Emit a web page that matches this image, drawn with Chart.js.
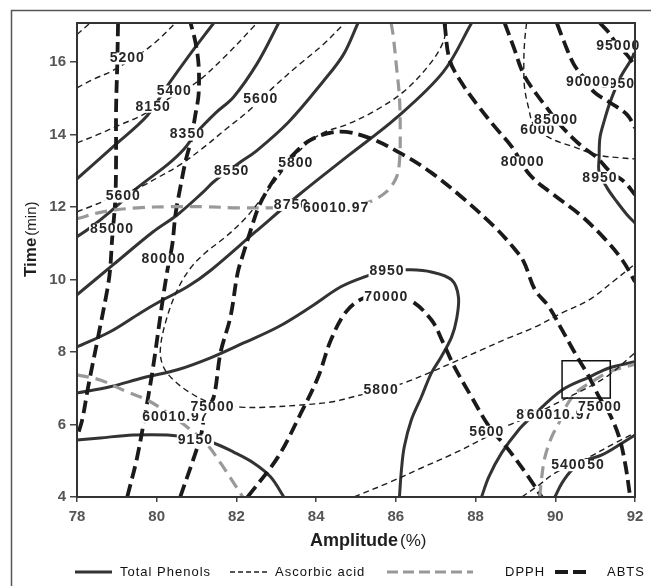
<!DOCTYPE html>
<html>
<head>
<meta charset="utf-8">
<script src="https://cdn.jsdelivr.net/npm/chart.js@4"></script>
<style>
  html, body { margin: 0; padding: 0; background: #fff; }
  canvas { display: block; }
</style>
</head>
<body>
<canvas id="contourChart" width="651" height="586"></canvas>
<script>
// axis ticks
const amplitudeTicks = [78, 80, 82, 84, 86, 88, 90, 92];
const timeTicks = [4, 6, 8, 10, 12, 14, 16];

// contour lines, [amplitude %, time min]
// Total phenols
const phenols8150 = [[78,12.78],[78.93,13.69],[79.76,14.52],[80.27,15.35],[80.77,16.12],[81.43,17.08]];
const phenols8350 = [[78,11.18],[78.33,11.43],[78.83,11.87],[79.51,12.53],[80.27,13.17],[80.67,13.58],[81.02,14.08],[81.48,14.6],[81.93,15.04],[82.53,15.98],[83.06,17.08]];
const phenols8550 = [[78,9.58],[78.91,10.41],[79.91,11.32],[80.52,11.79],[81.17,12.42],[81.43,12.7],[82.11,13.25],[82.48,13.53],[83.31,14.35],[84.17,15.46],[84.68,16.2],[85.05,17.08]];
const phenols8750 = [[78,8.14],[78.83,8.56],[79.59,9.08],[80.09,9.4],[80.77,9.8],[81.35,10.25],[82.48,11.32],[83.57,12.34],[84.83,13.44],[86.01,14.46],[87.19,15.73],[87.9,17.08]];
const phenols8950 = [[78,6.87],[78.83,7.04],[79.66,7.29],[80.52,7.51],[81.35,7.84],[82.18,8.25],[83.04,8.69],[83.87,9.25],[84.62,9.8],[85.2,10.07],[85.76,10.25],[86.34,10.27],[86.89,10.21],[87.4,9.99],[87.57,9.52],[87.52,8.89],[87.4,8.42],[87.14,7.87],[86.89,7.42],[86.64,6.76],[86.39,6.13],[86.21,5.38],[86.14,4.75],[86.09,4]];
const phenols9150 = [[78,5.57],[78.58,5.63],[79.41,5.71],[80.27,5.71],[80.97,5.62],[81.43,5.49],[81.93,5.24],[82.43,4.94],[82.86,4.55],[83.19,4]];
const phenols8950b = [[92,16.34],[91.93,16.12],[91.63,15.57],[91.38,14.91],[91.22,14.35],[91.12,13.91],[91.1,13.36],[91.1,12.97],[91.3,12.53],[91.55,12.14],[91.8,11.79],[92,11.56]];
const phenols8750b = [[88.15,4],[88.33,4.55],[88.65,5.21],[89.08,5.85],[89.41,6.21],[90.17,6.95],[90.85,7.31],[91.35,7.56],[92,7.73]];
const phenols8550b = [[89.99,4],[90.17,4.39],[90.42,4.75],[90.75,5],[91.17,5.16],[91.68,5.49],[92,5.71]];

// Ascorbic acid
const ascorbic5000 = [[78,16.76],[78.33,17.08]];
const ascorbic5200 = [[78,15.29],[78.38,15.51],[78.88,15.76],[79.59,16.23],[80.04,16.62],[80.47,17.08]];
const ascorbic5400 = [[78,13.77],[78.5,13.99],[79.08,14.27],[79.66,14.55],[80.34,15.02],[81.02,15.46],[81.68,16.12],[82.43,16.98],[82.5,17.08]];
const ascorbic5600 = [[78,11.87],[78.33,12.01],[78.76,12.2],[79.59,12.56],[80.02,12.81],[80.59,13.17],[81.17,13.64],[81.78,14.19],[82.28,14.63],[82.91,15.29],[83.57,15.93],[84.17,16.48],[84.72,17.08]];
const ascorbic5800 = [[87.27,17.08],[87.19,16.56],[86.84,15.93],[86.19,15.18],[85.43,14.63],[84.75,14.27],[84.17,14.05],[83.74,13.72],[83.37,13.3],[82.99,12.75],[82.66,12.28],[82.23,11.7],[81.73,11.18],[81.22,10.74],[80.85,10.32],[80.52,9.72],[80.24,8.89],[80.09,8.06],[80.17,7.59],[80.42,7.23],[80.85,6.87],[81.35,6.6],[82.11,6.48],[82.79,6.48],[83.62,6.54],[84.37,6.62],[85.13,6.82],[85.63,6.95],[86.21,7.15],[86.82,7.42],[87.47,7.73],[88.15,8.06],[88.83,8.39],[89.49,8.69],[90.17,9.08],[90.85,9.44],[91.5,9.99],[92,10.43]];
const ascorbic6000 = [[89.28,17.08],[89.23,16.56],[89.21,15.93],[89.23,15.29],[89.33,14.74],[89.46,14.27],[89.86,13.91],[90.47,13.66],[91.05,13.44],[91.63,13.36],[92,13.33]];
const ascorbic5600b = [[84.95,4],[85.81,4.39],[86.64,4.8],[87.47,5.21],[88.28,5.66],[88.73,5.93],[89.33,6.21],[89.84,6.48],[90.34,6.76],[90.85,7.04],[91.35,7.37],[92,7.98]];
const ascorbic5400b = [[89.16,4],[89.59,4.33],[89.99,4.66],[90.42,4.88],[90.85,5.1],[91.5,5.49],[92,5.77]];

// DPPH
const dpphUpper = [[78,11.68],[78.65,11.87],[79.51,11.98],[80.34,12.01],[81.17,12.01],[82.03,11.98],[82.86,11.98],[83.74,11.98],[84.62,12.01],[85,12.06],[85.33,12.14],[85.76,12.42],[86.01,12.81],[86.09,13.25],[86.11,14.08],[86.09,15.02],[86.01,15.93],[85.93,16.76],[85.88,17.08]];
const dpphLeft = [[78,7.37],[78.58,7.23],[79.26,6.9],[79.76,6.68],[80.3,6.3],[80.8,5.9],[81.27,5.44],[81.6,4.94],[81.93,4.39],[82.16,4]];
const dpphRight = [[89.61,4],[89.66,4.55],[89.74,5.1],[89.91,5.66],[90.09,6.04],[90.29,6.54],[90.54,6.9],[90.92,7.18],[91.35,7.45],[92,7.67]];

// ABTS
const abts85000a = [[79.03,17.08],[79.01,15.93],[78.98,14.68],[78.98,13.3],[78.96,12.2],[78.88,11.1],[78.83,10.27],[78.76,9.72],[78.53,8.42],[78.28,7.04],[78.13,6.13],[78,5.66]];
const abts80000a = [[79.26,4],[79.51,5.1],[79.76,6.6],[79.91,7.59],[80.14,9.36],[80.27,10.27],[80.39,10.96],[80.47,11.79],[80.59,12.53],[80.72,13.25],[80.85,13.8],[80.97,14.55],[81.05,15.1],[81.05,15.93],[80.97,16.56],[80.85,17.08]];
const abts75000 = [[80.59,4],[81.1,5.66],[81.22,6.32],[81.43,6.76],[81.6,7.98],[81.85,8.97],[82.03,10.18],[82.18,10.74],[82.36,11.37],[82.56,12.01],[82.81,12.53],[83.11,13.03],[83.42,13.44],[83.87,13.86],[84.57,14.08],[85.33,13.91],[86.19,13.44],[86.89,12.95],[87.65,12.28],[88.48,11.45],[88.96,10.87],[89.21,10.49],[89.49,9.72],[89.84,9.25],[90.17,8.61],[90.49,7.98],[90.85,7.31],[91.1,6.76],[91.35,6.32],[91.6,5.66],[91.75,4.94],[91.88,4]];
const abts70000 = [[82.28,4],[83.04,5.1],[83.62,6.32],[84.05,7.31],[84.37,8.33],[84.75,9.11],[85.2,9.49],[85.76,9.55],[86.34,9.44],[86.89,8.89],[87.19,8.25],[87.47,7.59],[87.9,6.76],[88.35,5.93],[88.83,5.3],[89.33,4.55],[89.66,4]];
const abts80000b = [[87.22,17.08],[87.35,16.06],[87.65,15.43],[88.08,14.77],[88.48,14.22],[88.91,13.66],[89.36,12.89],[89.96,12.34],[90.62,11.79],[91.22,11.15],[91.68,10.54],[92,9.94]];
const abts85000b = [[88.73,17.08],[88.96,16.4],[89.21,15.65],[89.54,15.1],[89.79,14.74],[90.12,14.27],[90.62,13.72],[91.05,13.36],[91.38,12.97],[91.73,12.7],[92,12.34]];
const abts90000 = [[90.04,17.08],[90.22,16.56],[90.47,15.93],[90.72,15.57],[90.97,15.18],[91.38,14.88],[91.8,14.55],[92,14.19]];
const abts95000 = [[91.12,17.08],[91.35,16.81],[91.55,16.48],[91.8,16.2],[92,15.9]];

// contour labels: text, amplitude, time (later ones drawn over earlier ones)
const contourLabels = [
  ["5200", 79.26, 16.1], ["5400", 80.44, 15.19], ["8150", 79.91, 14.77],
  ["5600", 82.61, 14.97], ["8350", 80.77, 14.0], ["8550", 81.88, 12.98],
  ["5800", 83.49, 13.2], ["5600", 79.16, 12.29], ["8750", 83.38, 12.06],
  ["60010.97", 84.5, 11.98], ["85000", 78.88, 11.38], ["80000", 80.17, 10.55],
  ["95000", 91.58, 16.43], ["8950", 91.56, 15.4], ["90000", 90.82, 15.46],
  ["6000", 89.56, 14.13], ["85000", 90.02, 14.41], ["80000", 89.18, 13.23],
  ["8950", 91.12, 12.81], ["8950", 85.78, 10.24], ["70000", 85.76, 9.52],
  ["5800", 85.63, 6.96], ["5600", 88.28, 5.8], ["8750", 89.46, 6.26],
  ["60010.97", 90.12, 6.26], ["75000", 91.12, 6.48], ["8550", 90.8, 4.88],
  ["5400", 90.34, 4.88], ["9150", 80.97, 5.57], ["60010.97", 80.47, 6.21],
  ["75000", 81.4, 6.48]
];

// marked optimum region: amplitude from/to, time from/to
const optimumBox = [90.17, 91.38, 6.73, 7.76];

const legendNames = ["Total Phenols", "Ascorbic acid", "DPPH", "ABTS"];

const FONT = "'Liberation Sans', Arial, sans-serif";

const phenolStyle = { borderColor: "#333333", borderWidth: 3 };
const ascorbicStyle = { borderColor: "#1e1e1e", borderWidth: 1.4, borderDash: [6, 4] };
const dpphStyle = { borderColor: "#999999", borderWidth: 3.2, borderDash: [12, 7] };
const abtsStyle = { borderColor: "#1a1a1a", borderWidth: 3.8, borderDash: [13, 6] };

function contour(arr, style) {
  return Object.assign({
    data: arr.map(p => ({ x: p[0], y: p[1] })),
    showLine: true,
    pointRadius: 0,
    pointHoverRadius: 0,
    tension: 0.35,
    fill: false
  }, style);
}

const datasets = [
  ...[ascorbic5000, ascorbic5200, ascorbic5400, ascorbic5600, ascorbic5800, ascorbic6000, ascorbic5600b, ascorbic5400b].map(a => contour(a, ascorbicStyle)),
  ...[dpphUpper, dpphLeft, dpphRight].map(a => contour(a, dpphStyle)),
  ...[abts85000a, abts80000a, abts75000, abts70000, abts80000b, abts85000b, abts90000, abts95000].map(a => contour(a, abtsStyle)),
  ...[phenols8150, phenols8350, phenols8550, phenols8750, phenols8950, phenols9150, phenols8950b, phenols8750b, phenols8550b].map(a => contour(a, phenolStyle))
];

const decorations = {
  id: "decorations",
  beforeDraw(chart) {
    const ctx = chart.ctx;
    ctx.save();
    ctx.fillStyle = "#fff";
    ctx.fillRect(0, 0, chart.width, chart.height);
    // outer figure frame
    ctx.strokeStyle = "#555";
    ctx.lineWidth = 1.5;
    ctx.beginPath();
    ctx.moveTo(11.5, chart.height);
    ctx.lineTo(11.5, 10.5);
    ctx.lineTo(chart.width, 10.5);
    ctx.stroke();
    ctx.restore();
  },
  afterDatasetsDraw(chart) {
    const { ctx, chartArea: a, scales: { x, y } } = chart;
    ctx.save();
    ctx.font = "bold 14px " + FONT;
    ctx.letterSpacing = "1px";
    ctx.textAlign = "center";
    ctx.textBaseline = "middle";
    contourLabels.forEach(([text, vx, vy]) => {
      const px = x.getPixelForValue(vx);
      const py = y.getPixelForValue(vy);
      const w = ctx.measureText(text).width;
      ctx.fillStyle = "#fff";
      ctx.fillRect(px - w / 2 - 1, py - 6, w + 2, 12);
      ctx.fillStyle = "#262626";
      ctx.fillText(text, px, py);
    });
    ctx.letterSpacing = "0px";
    // optimum box
    ctx.strokeStyle = "#111";
    ctx.lineWidth = 1.5;
    const bx1 = x.getPixelForValue(optimumBox[0]);
    const bx2 = x.getPixelForValue(optimumBox[1]);
    const by1 = y.getPixelForValue(optimumBox[3]);
    const by2 = y.getPixelForValue(optimumBox[2]);
    ctx.strokeRect(bx1, by1, bx2 - bx1, by2 - by1);
    // plot frame
    ctx.strokeStyle = "#333";
    ctx.lineWidth = 2;
    ctx.strokeRect(a.left, a.top, a.right - a.left, a.bottom - a.top);
    ctx.restore();
  },
  afterDraw(chart) {
    const ctx = chart.ctx;
    ctx.save();
    ctx.fillStyle = "#1e1e1e";
    ctx.textBaseline = "alphabetic";
    ctx.textAlign = "left";
    // x title
    ctx.font = "bold 18px " + FONT;
    ctx.fillText("Amplitude", 310, 546);
    ctx.font = "17px " + FONT;
    ctx.fillText("(%)", 400, 546);
    // y title
    ctx.translate(36, 277);
    ctx.rotate(-Math.PI / 2);
    ctx.font = "bold 17px " + FONT;
    ctx.fillText("Time", 0, 0);
    const tw = ctx.measureText("Time").width;
    ctx.font = "15px " + FONT;
    ctx.fillText("(min)", tw + 2, 0);
    ctx.setTransform(1, 0, 0, 1, 0, 0);

    // legend
    const ly = 572;
    const drawKey = (x1, x2, color, width, dash) => {
      ctx.strokeStyle = color;
      ctx.lineWidth = width;
      ctx.setLineDash(dash);
      ctx.beginPath();
      ctx.moveTo(x1, ly);
      ctx.lineTo(x2, ly);
      ctx.stroke();
    };
    drawKey(75, 112, phenolStyle.borderColor, 3, []);
    drawKey(230, 267, ascorbicStyle.borderColor, 1.6, [5, 3]);
    drawKey(387, 473, dpphStyle.borderColor, 3.2, [11, 5]);
    drawKey(555, 590, abtsStyle.borderColor, 3.8, [13, 5]);
    ctx.setLineDash([]);
    ctx.font = "13px " + FONT;
    ctx.letterSpacing = "1px";
    ctx.fillStyle = "#111";
    ctx.textBaseline = "middle";
    ctx.fillText(legendNames[0], 120, ly);
    ctx.fillText(legendNames[1], 275, ly);
    ctx.fillText(legendNames[2], 505, ly);
    ctx.fillText(legendNames[3], 607, ly);
    ctx.restore();
  }
};

new Chart(document.getElementById("contourChart"), {
  type: "scatter",
  data: { datasets: datasets },
  options: {
    responsive: false,
    animation: false,
    layout: { padding: { top: 23, right: 16, left: 0, bottom: 0 } },
    plugins: { legend: { display: false }, tooltip: { enabled: false } },
    scales: {
      x: {
        type: "linear",
        min: 78,
        max: 92,
        afterBuildTicks: s => { s.ticks = amplitudeTicks.map(v => ({ value: v })); },
        afterFit: s => { s.height = 89; },
        grid: { drawOnChartArea: false, drawTicks: true, tickLength: 5, color: "#444", lineWidth: 1.5 },
        border: { color: "#333", width: 2 },
        ticks: { color: "#555", padding: 6, maxRotation: 0, autoSkip: false, font: { family: FONT, size: 15, weight: "bold" } }
      },
      y: {
        type: "linear",
        min: 4,
        max: 17.08,
        afterBuildTicks: s => { s.ticks = timeTicks.map(v => ({ value: v })); },
        afterFit: s => { s.width = 77; },
        grid: { drawOnChartArea: false, drawTicks: true, tickLength: 7, color: "#444", lineWidth: 1.5 },
        border: { color: "#333", width: 2 },
        ticks: { color: "#555", padding: 4, autoSkip: false, font: { family: FONT, size: 15, weight: "bold" } }
      }
    }
  },
  plugins: [decorations]
});
</script>
</body>
</html>
